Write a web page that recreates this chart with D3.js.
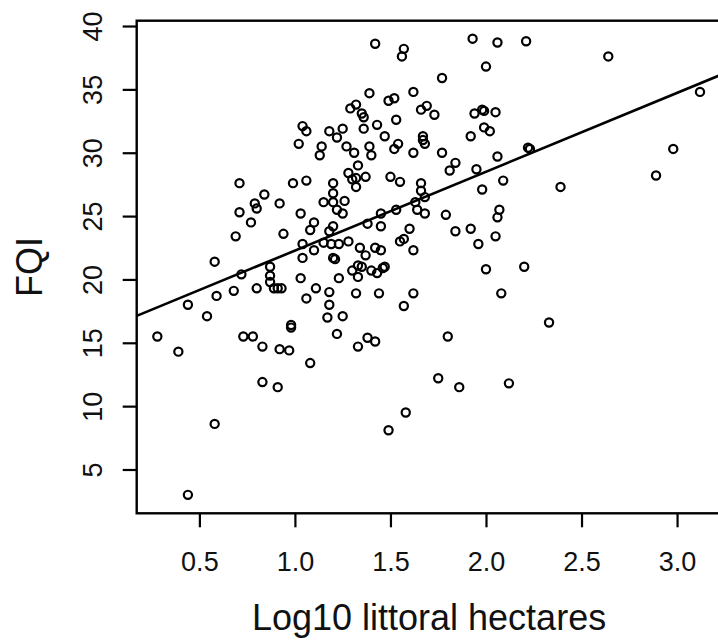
<!DOCTYPE html>
<html><head><meta charset="utf-8">
<script src="https://cdn.jsdelivr.net/npm/d3@7"></script>
<style>
body{margin:0;background:#fff}
svg{display:block}
text{font-family:"Liberation Sans",Arial,Helvetica,sans-serif;fill:#111}
</style>
</head><body>
<svg id="chart" width="718" height="640"></svg>
<script>
const logHectares = [
1.42,1.57,1.56,1.93,2.06,2.21,2.00,1.77,2.64,1.39,1.62,3.12,1.49,1.52,1.29,1.32,1.35,1.36,1.66,1.69,
1.73,1.94,1.98,1.99,2.05,1.53,1.43,1.36,1.25,1.99,2.02,1.47,1.67,1.67,1.68,1.92,1.04,1.06,1.18,1.22,
1.02,1.14,1.13,1.27,1.31,1.39,1.40,1.54,1.52,1.62,1.77,2.06,2.22,2.23,2.98,
1.33,1.28,1.30,1.32,1.37,1.32,1.50,1.55,1.84,1.81,1.95,2.09,1.98,2.89,2.39,1.66,1.66,1.68,0.71,0.99,
1.06,1.20,1.20,0.84,
1.15,1.20,1.26,1.22,1.25,0.79,0.80,0.92,0.71,1.03,0.77,1.10,1.08,1.20,1.18,0.94,0.69,1.63,1.64,1.68,
1.45,1.53,
1.38,1.45,1.60,1.79,2.07,2.06,1.84,1.92,2.05,1.96,1.55,1.57,1.62,1.28,1.34,1.42,1.45,1.37,
1.04,1.10,1.15,1.19,1.23,1.04,1.20,1.21,0.58,0.87,0.72,0.87,0.87,1.03,1.23,1.30,1.33,1.35,1.33,1.40,
1.43,1.46,1.47,2.00,2.20,
0.89,0.91,0.93,0.80,0.68,0.59,1.11,1.18,1.06,1.32,1.44,1.62,2.08,
0.44,0.54,1.18,1.57,1.17,1.25,2.33,0.98,0.98,1.22,1.80,0.28,0.73,0.78,0.39,0.83,0.92,0.97,1.08,1.38,
1.42,1.33,1.75,1.86,2.12,0.83,0.91,1.58,1.49,0.58,0.44
];
const fqiValues = [
38.6,38.2,37.6,39.0,38.7,38.8,36.8,35.9,37.6,34.7,34.8,34.8,34.1,34.3,33.5,33.8,33.1,32.8,33.4,33.7,
33.0,33.1,33.4,33.3,33.2,32.6,32.2,31.9,31.9,32.0,31.7,31.3,31.3,31.0,30.7,31.3,32.1,31.7,31.7,31.2,
30.7,30.5,29.8,30.5,30.0,30.5,29.8,30.7,30.3,30.0,30.0,29.7,30.4,30.3,30.3,
29.0,28.4,27.9,28.0,28.1,27.3,28.1,27.7,29.2,28.6,28.7,27.8,27.1,28.2,27.3,27.6,27.0,26.5,27.6,27.6,
27.8,27.6,26.8,26.7,
26.1,26.1,26.2,25.5,25.2,26.0,25.6,26.0,25.3,25.2,24.5,24.5,23.9,24.2,23.8,23.6,23.4,26.1,25.5,25.2,
25.2,25.5,
24.4,24.2,24.0,25.1,25.5,24.9,23.8,24.0,23.4,22.8,23.0,23.2,22.3,23.0,22.5,22.5,22.3,21.9,
22.8,22.3,22.9,22.8,22.8,21.7,21.7,21.6,21.4,21.0,20.4,20.3,19.8,20.1,20.1,20.7,21.1,21.0,20.2,20.7,
20.5,20.9,21.0,20.8,21.0,
19.3,19.3,19.3,19.3,19.1,18.7,19.3,19.0,18.5,18.9,18.9,18.9,18.9,
18.0,17.1,18.0,17.9,17.0,17.1,16.6,16.4,16.2,15.7,15.5,15.5,15.5,15.5,14.3,14.7,14.5,14.4,13.4,15.4,
15.1,14.7,12.2,11.5,11.8,11.9,11.5,9.5,8.1,8.6,3.0
];
const xTickValues = [0.5, 1.0, 1.5, 2.0, 2.5, 3.0];
const xTickLabels = ["0.5", "1.0", "1.5", "2.0", "2.5", "3.0"];
const yTickValues = [5, 10, 15, 20, 25, 30, 35, 40];
const yTickLabels = ["5", "10", "15", "20", "25", "30", "35", "40"];
const fitIntercept = 16.05;
const fitSlope = 6.224;
const xTitle = "Log10 littoral hectares";
const yTitle = "FQI";

(function () {
const points = logHectares.map((v, i) => ({x: v, y: fqiValues[i]}));

const svg = d3.select("#chart");
const pL = 136.7, pR = 721.4, pT = 20.7, pB = 513.3;

const x = d3.scaleLinear().domain([0.172, 3.232]).range([pL, pR]);
const y = d3.scaleLinear().domain([1.543, 40.42]).range([pB, pT]);

svg.append("defs").append("clipPath").attr("id", "plotclip")
  .append("rect").attr("x", pL).attr("y", pT).attr("width", pR - pL).attr("height", pB - pT);

// x axis
const xAxis = d3.axisBottom(x).tickValues(xTickValues)
  .tickFormat((d, i) => xTickLabels[i]).tickSize(14).tickPadding(0);
const gx = svg.append("g").attr("transform", `translate(0,${pB})`).call(xAxis);
gx.select(".domain").remove();
gx.selectAll(".tick line").attr("stroke", "#000").attr("stroke-width", 2.2);
gx.selectAll(".tick text").attr("y", 58).attr("dy", null)
  .style("font-size", "27px").attr("fill", "#1a1a1a");

// y axis
const yAxis = d3.axisLeft(y).tickValues(yTickValues)
  .tickFormat((d, i) => yTickLabels[i]).tickSize(14).tickPadding(0);
const gy = svg.append("g").attr("transform", `translate(${pL},0)`).call(yAxis);
gy.select(".domain").remove();
gy.selectAll(".tick line").attr("stroke", "#000").attr("stroke-width", 2.2);
gy.selectAll(".tick text")
  .attr("x", null).attr("dy", null)
  .attr("text-anchor", "middle")
  .attr("transform", "translate(-35,0) rotate(-90)")
  .style("font-size", "27px").attr("fill", "#1a1a1a");

// box
svg.append("rect").attr("x", pL).attr("y", pT)
  .attr("width", pR - pL).attr("height", pB - pT)
  .attr("fill", "none").attr("stroke", "#000").attr("stroke-width", 2.4);

// points
svg.append("g").attr("clip-path", "url(#plotclip)")
  .selectAll("circle").data(points).join("circle")
  .attr("cx", d => x(d.x)).attr("cy", d => y(d.y)).attr("r", 4.1)
  .attr("fill", "none").attr("stroke", "#000").attr("stroke-width", 2.2);

// regression line
const [x0, x1] = x.domain();
svg.append("line").attr("clip-path", "url(#plotclip)")
  .attr("x1", x(x0)).attr("y1", y(fitIntercept + fitSlope * x0))
  .attr("x2", x(x1)).attr("y2", y(fitIntercept + fitSlope * x1))
  .attr("stroke", "#000").attr("stroke-width", 2.6);

// titles
svg.append("text").attr("x", (pL + pR) / 2).attr("y", 630)
  .attr("text-anchor", "middle").style("font-size", "36px").attr("fill", "#1a1a1a").text(xTitle);
svg.append("text").attr("transform", `translate(42,${(pT + pB) / 2}) rotate(-90)`)
  .attr("text-anchor", "middle").style("font-size", "36px").attr("fill", "#1a1a1a").text(yTitle);
})();
</script>
</body></html>
